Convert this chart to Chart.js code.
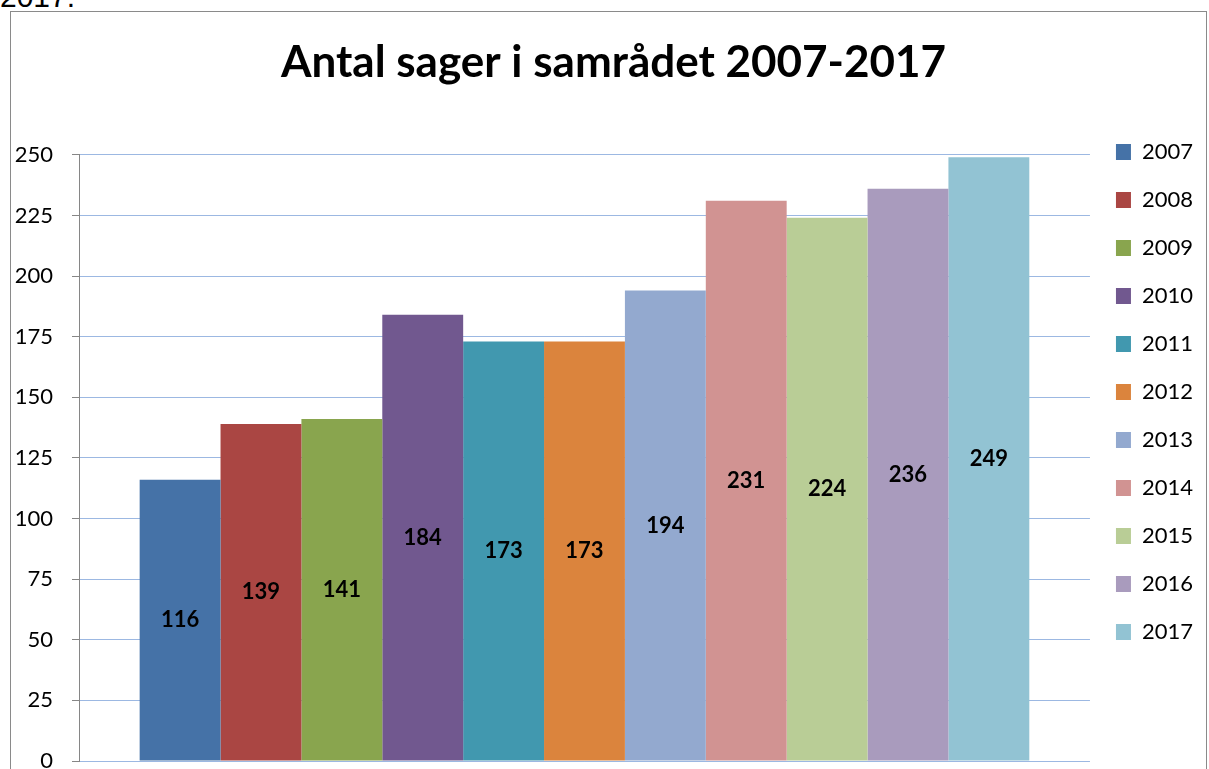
<!DOCTYPE html>
<html>
<head>
<meta charset="utf-8">
<script src="https://cdn.jsdelivr.net/npm/chart.js@4/dist/chart.umd.min.js"></script>
<style>
    body { margin: 0; background: #fff; overflow: hidden; width: 1209px; height: 769px; position: relative; }
    #caption { position: absolute; left: 0; top: -20px; font: 30px "Liberation Sans", Arial, sans-serif; color: #000; }
    #frame { position: absolute; left: 10px; top: 11px; width: 1197px; height: 800px; border: 1px solid #8a8a8a; box-sizing: border-box; }
    #wrap { position: absolute; left: 11px; top: 12px; width: 1197px; height: 760px; }
</style>
</head>
<body>
<div id="caption">2017.</div>
<div id="frame"></div>
<div id="wrap"><canvas id="chart"></canvas></div>
<script>
const years = ['2007', '2008', '2009', '2010', '2011', '2012', '2013', '2014', '2015', '2016', '2017'];
const cases = [116, 139, 141, 184, 173, 173, 194, 231, 224, 236, 249];
const colors = ['#4572A7', '#AA4643', '#89A54E', '#71588F', '#4198AF', '#DB843D',
    '#93A9CF', '#D19392', '#B9CD96', '#A99BBD', '#92C3D3'];
const yTicks = [0, 25, 50, 75, 100, 125, 150, 175, 200, 225, 250];

const font = 'Lato';

// values written in the middle of each bar
const barLabels = {
    id: 'barLabels',
    afterDatasetsDraw(chart) {
        const ctx = chart.ctx;
        ctx.save();
        ctx.font = 'bold 22px ' + font;
        ctx.fillStyle = '#000';
        ctx.textAlign = 'center';
        ctx.textBaseline = 'middle';
        chart.data.datasets.forEach((ds, i) => {
            const bar = chart.getDatasetMeta(i).data[0];
            ctx.fillText(ds.data[0], bar.x, (bar.y + bar.base) / 2);
        });
        ctx.restore();
    }
};

new Chart(document.getElementById('chart'), {
    type: 'bar',
    data: {
        labels: [''],
        datasets: years.map((y, i) => ({
            label: y,
            data: [cases[i]],
            backgroundColor: colors[i],
            borderWidth: 0,
            categoryPercentage: 0.88,
            barPercentage: 1
        }))
    },
    options: {
        responsive: true,
        maintainAspectRatio: false,
        animation: false,
        layout: { padding: { left: 13, right: 5, top: 0, bottom: 0 } },
        scales: {
            x: { display: false },
            y: {
                min: 0,
                max: 250,
                afterBuildTicks: (s) => { s.ticks = yTicks.map(v => ({ value: v })); },
                afterFit: (s) => {
                    s.width = 55;
                    s.paddingTop = 0;
                    s.paddingBottom = 11;
                    // labels stick out past the left padding, don't clip them
                    s._computeLabelArea = () => null;
                },
                ticks: {
                    color: '#000',
                    padding: 19,
                    font: { family: font, size: 22 }
                },
                grid: {
                    color: '#9cb8e2',
                    tickColor: '#868686',
                    tickLength: 7
                },
                border: { color: '#868686', width: 1 }
            }
        },
        plugins: {
            title: {
                display: true,
                text: 'Antal sager i samrådet 2007-2017',
                color: '#000',
                font: { family: font, size: 44, weight: 'bold' },
                padding: { top: 24, bottom: 66 }
            },
            legend: {
                position: 'right',
                align: 'center',
                labels: {
                    color: '#000',
                    boxWidth: 15,
                    boxHeight: 16,
                    padding: 26,
                    font: { family: font, size: 22 }
                }
            },
            tooltip: { enabled: false }
        }
    },
    plugins: [barLabels]
});
</script>
</body>
</html>
